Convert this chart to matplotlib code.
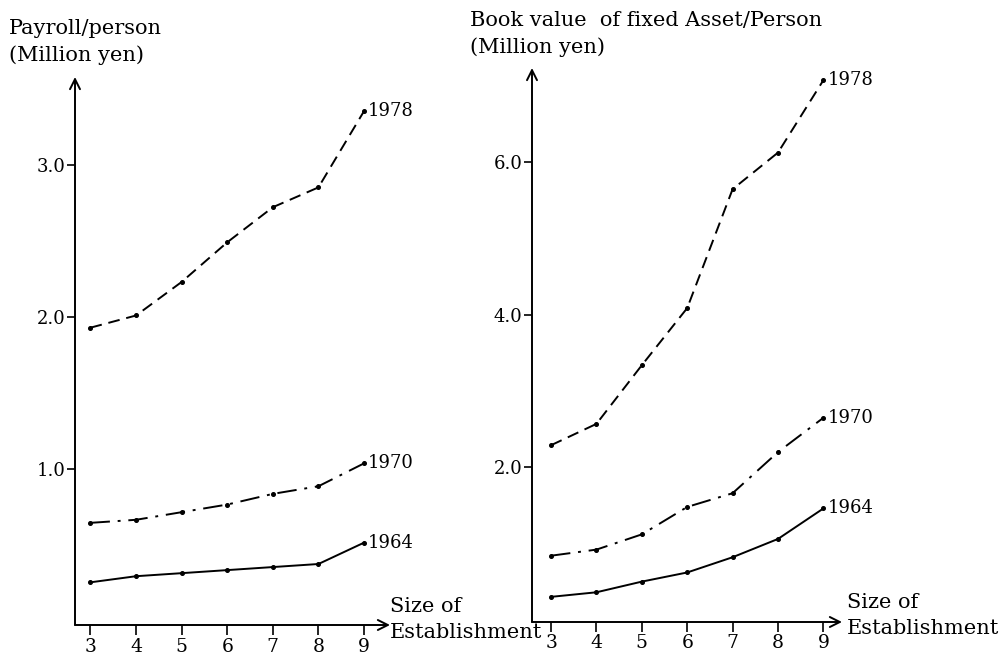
import matplotlib
matplotlib.use("Agg")
import matplotlib.pyplot as plt

plt.rcParams['font.family'] = ['DejaVu Serif']

sizes = [3, 4, 5, 6, 7, 8, 9]

# Payroll/person (million yen)
pay_1978 = [1.93, 2.01, 2.23, 2.49, 2.72, 2.85, 3.35]
pay_1970 = [0.65, 0.67, 0.72, 0.77, 0.84, 0.89, 1.04]
pay_1964 = [0.26, 0.30, 0.32, 0.34, 0.36, 0.38, 0.52]

# Book value of fixed asset/person (million yen)
asset_1978 = [2.29, 2.57, 3.34, 4.09, 5.65, 6.13, 7.08]
asset_1970 = [0.84, 0.92, 1.12, 1.48, 1.66, 2.20, 2.65]
asset_1964 = [0.30, 0.36, 0.50, 0.62, 0.82, 1.06, 1.46]

years = ['1978', '1970', '1964']
styles = [(0, (6, 3.5)), (0, (10, 4, 1.5, 4)), '-']

W, H = 1003, 656
fig = plt.figure(figsize=(W / 100, H / 100), dpi=100)


def px_axes(x0, x1, y_top, y_bot):
    return fig.add_axes([x0 / W, 1 - y_bot / H, (x1 - x0) / W, (y_bot - y_top) / H])


def style_axes(ax, xlim, ylim, yticks, ylabels):
    ax.set_xlim(*xlim)
    ax.set_ylim(*ylim)
    for s in ax.spines.values():
        s.set_visible(False)
    ax.annotate('', xy=(0, 1), xytext=(0, 0), xycoords='axes fraction',
                arrowprops=dict(arrowstyle='->', lw=1.4, color='black',
                                shrinkA=0, shrinkB=0, mutation_scale=18))
    ax.annotate('', xy=(1, 0), xytext=(0, 0), xycoords='axes fraction',
                arrowprops=dict(arrowstyle='->', lw=1.4, color='black',
                                shrinkA=0, shrinkB=0, mutation_scale=18))
    ax.set_xticks(sizes)
    ax.set_xticklabels([str(s) for s in sizes], fontsize=13.5)
    ax.set_yticks(yticks)
    ax.set_yticklabels(ylabels, fontsize=13)
    ax.tick_params(axis='x', direction='out', length=7, width=1.2, pad=2)
    ax.tick_params(axis='y', direction='out', length=6, width=1.2, pad=1)
    ax.patch.set_visible(False)


def draw(ax, series):
    for vals, ls, yr in zip(series, styles, years):
        ax.plot(sizes, vals, linestyle=ls, color='black', lw=1.4,
                marker='o', markersize=2.6)
        ax.annotate(yr, xy=(sizes[-1], vals[-1]), xytext=(3, 0),
                    textcoords='offset points', va='center', ha='left',
                    fontsize=13)


# left panel
ax1 = px_axes(75, 390, 77, 625)
style_axes(ax1, (2.66, 9.57), (-0.02, 3.574), [1, 2, 3], ['1.0', '2.0', '3.0'])
draw(ax1, [pay_1978, pay_1970, pay_1964])

# right panel
ax2 = px_axes(532, 842, 68, 622)
style_axes(ax2, (2.58, 9.41), (-0.03, 7.24), [2, 4, 6], ['2.0', '4.0', '6.0'])
draw(ax2, [asset_1978, asset_1970, asset_1964])

fs = 15
fig.text(9 / W, 1 - 28 / H, 'Payroll/person', fontsize=fs, va='center', ha='left')
fig.text(9 / W, 1 - 55 / H, '(Million yen)', fontsize=fs, va='center', ha='left')
fig.text(470 / W, 1 - 20 / H, 'Book value  of fixed Asset/Person', fontsize=fs,
         va='center', ha='left')
fig.text(470 / W, 1 - 47 / H, '(Million yen)', fontsize=fs, va='center', ha='left')

fig.text(390 / W, 1 - 606 / H, 'Size of', fontsize=fs, va='center', ha='left')
fig.text(390 / W, 1 - 632 / H, 'Establishment', fontsize=fs, va='center', ha='left')
fig.text(847 / W, 1 - 602 / H, 'Size of', fontsize=fs, va='center', ha='left')
fig.text(847 / W, 1 - 628 / H, 'Establishment', fontsize=fs, va='center', ha='left')

fig.savefig('out.png', dpi=100)
